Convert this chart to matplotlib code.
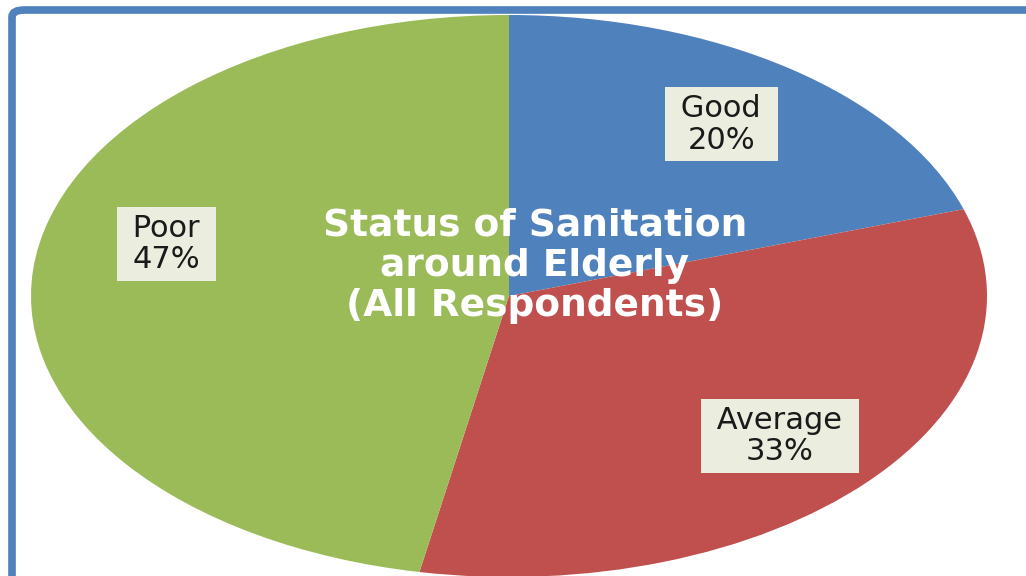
import numpy as np
import matplotlib
matplotlib.use("Agg")
import matplotlib.pyplot as plt
from matplotlib.patches import FancyBboxPatch

# data
categories = ["Good", "Average", "Poor"]
shares = [20, 33, 47]
colors = ["#4F81BD", "#C0504D", "#9BBB59"]
title = "Status of Sanitation\naround Elderly\n(All Respondents)"

fig = plt.figure(figsize=(10.26, 5.76), dpi=100)
ax = fig.add_axes([0, 0, 1, 1])

wedges, texts = ax.pie(shares, colors=colors, startangle=90, counterclock=False,
                       labels=[f" {c} \n{s}%" for c, s in zip(categories, shares)],
                       labeldistance=0.755, radius=1.0)
ax.set_aspect("auto")

# pie centre at pixel (509, 296), radii 478 x 281 px
ax.set_xlim(-509 / 478, (1026 - 509) / 478)
ax.set_ylim(-(576 - 296) / 281, 296 / 281)
ax.axis("off")

# the Poor label sits a bit higher than the wedge middle
ang = np.deg2rad(165.5)
texts[2].set_position((0.74 * np.cos(ang), 0.74 * np.sin(ang)))

for t in texts:
    t.set_ha("center")
    t.set_va("center")
    t.set_fontsize(22)
    t.set_color("#1a1a1a")
    t.set_linespacing(1.1)
    t.set_bbox(dict(boxstyle="square,pad=0.22", facecolor="#EBEEDF", edgecolor="none"))

fig.text(535 / 1026, 1 - 266 / 576, title, ha="center", va="center",
         fontsize=27, fontweight="bold", color="white", linespacing=1.15)

# blue chart frame (only left and top edges visible)
frame = FancyBboxPatch((12 / 1026, -0.2), 1.2, 1.2 - 10 / 576,
                       boxstyle="round,pad=0,rounding_size=0.012",
                       transform=fig.transFigure, facecolor="none",
                       edgecolor="#4F81BD", linewidth=5.5, clip_on=False)
fig.patches.append(frame)

fig.savefig("out.png", dpi=100)
